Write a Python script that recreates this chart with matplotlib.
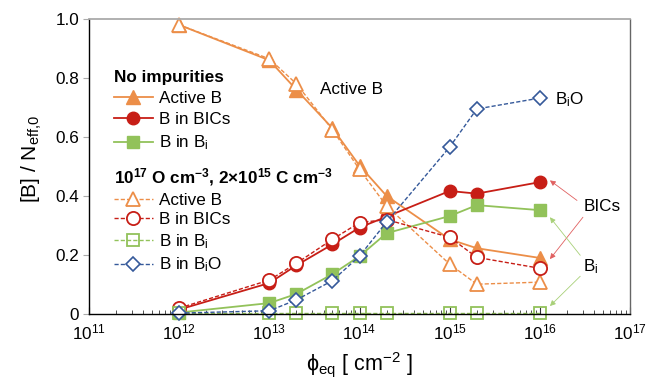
import matplotlib
matplotlib.use("Agg")
import matplotlib.pyplot as plt
from matplotlib.ticker import FixedLocator, FuncFormatter, LogLocator, NullFormatter

plt.rcParams['font.family'] = ['Liberation Sans', 'DejaVu Sans']
plt.rcParams['mathtext.fontset'] = 'custom'
plt.rcParams['mathtext.rm'] = 'Liberation Sans'
plt.rcParams['mathtext.it'] = 'Liberation Sans:italic'
plt.rcParams['mathtext.bf'] = 'Liberation Sans:bold'

# ---------------- data ----------------
fluence = [1e12, 1e13, 2e13, 5e13, 1e14, 2e14, 1e15, 2e15, 1e16]

# No impurities (closed symbols, solid lines)
active_b_pure = [0.98, 0.86, 0.76, 0.63, 0.503, 0.40, 0.253, 0.223, 0.19]
bics_pure     = [0.015, 0.105, 0.165, 0.236, 0.293, 0.33, 0.417, 0.408, 0.447]
bi_pure       = [0.005, 0.037, 0.068, 0.135, 0.196, 0.274, 0.332, 0.369, 0.352]

# 1e17 O cm-3, 2e15 C cm-3 (open symbols, dashed lines)
active_b_imp = [0.98, 0.865, 0.78, 0.625, 0.49, 0.366, 0.169, 0.101, 0.108]
bics_imp     = [0.02, 0.115, 0.172, 0.253, 0.31, 0.32, 0.26, 0.192, 0.155]
bi_imp       = [0.003, 0.003, 0.003, 0.003, 0.003, 0.003, 0.003, 0.003, 0.003]
bio_imp      = [0.003, 0.011, 0.048, 0.113, 0.196, 0.312, 0.566, 0.695, 0.732]

xticks = [1e11, 1e12, 1e13, 1e14, 1e15, 1e16, 1e17]
yticks = [0, 0.2, 0.4, 0.6, 0.8, 1.0]

ORANGE = '#EC8E48'
RED = '#C71E16'
GREEN = '#92C25A'
BLUE = '#35599A'

fig = plt.figure(figsize=(6.56, 3.78), dpi=100)
ax = fig.add_axes([89/656, 1 - 314/378, (630-89)/656, (314-19)/378])

lw_s = 1.3
lw_d = 1.0
fs = 12.3

h_a1, = ax.plot(fluence, active_b_pure, '-', color=ORANGE, lw=lw_s, marker='^', ms=9.5,
                mfc=ORANGE, mec=ORANGE, label='Active B', clip_on=False)
h_b1, = ax.plot(fluence, bics_pure, '-', color=RED, lw=lw_s, marker='o', ms=9,
                mfc=RED, mec=RED, label='B in BICs', clip_on=False)
h_c1, = ax.plot(fluence, bi_pure, '-', color=GREEN, lw=lw_s, marker='s', ms=8,
                mfc=GREEN, mec=GREEN, label='B in B$_\\mathrm{i}$', clip_on=False)

h_a2, = ax.plot(fluence, active_b_imp, '--', color=ORANGE, lw=lw_d, marker='^', ms=10,
                mfc='white', mec=ORANGE, mew=1.3, label='Active B', clip_on=False, dashes=(3, 1.5))
h_b2, = ax.plot(fluence, bics_imp, '--', color=RED, lw=lw_d, marker='o', ms=9.5,
                mfc='white', mec=RED, mew=1.3, label='B in BICs', clip_on=False, dashes=(3, 1.5))
h_c2, = ax.plot(fluence, bi_imp, '--', color=GREEN, lw=lw_d, marker='s', ms=8.5,
                mfc='none', mec=GREEN, mew=1.3, label='B in B$_\\mathrm{i}$', clip_on=False, dashes=(3, 1.5))
h_d2, = ax.plot(fluence, bio_imp, '--', color=BLUE, lw=lw_d, marker='D', ms=6.8,
                mfc='white', mec=BLUE, mew=1.2, label='B in B$_\\mathrm{i}$O', clip_on=False, dashes=(3, 1.5))

ax.set_xscale('log')
ax.set_xlim(1e11, 1e17)
ax.set_ylim(0, 1.0)
ax.xaxis.set_major_locator(FixedLocator(xticks))
ax.xaxis.set_minor_locator(LogLocator(base=10, subs=range(2, 10), numticks=20))
ax.xaxis.set_minor_formatter(NullFormatter())
ax.yaxis.set_major_locator(FixedLocator(yticks))
ax.yaxis.set_major_formatter(FuncFormatter(lambda v, p: '0' if v == 0 else f'{v:.1f}'))

ax.tick_params(axis='x', which='major', direction='in', length=5, width=0.8, labelsize=fs, pad=6, color='#333333')
ax.tick_params(axis='x', which='minor', direction='in', length=3, width=0.6, color='#333333')
ax.tick_params(axis='y', which='major', direction='out', length=4, width=0.8, labelsize=fs, color='#aaaaaa', pad=3)

for s in ['left', 'bottom']:
    ax.spines[s].set_color('black')
    ax.spines[s].set_linewidth(1.0)
ax.spines['top'].set_color('#aaaaaa')
ax.spines['top'].set_linewidth(1.3)
ax.spines['right'].set_color('#666666')
ax.spines['right'].set_linewidth(1.0)

ax.set_xlabel('ϕ$_{\\mathrm{eq}}$ [ cm$^{-2}$ ]', fontsize=15.5)
ax.set_ylabel('[B] / N$_{\\mathrm{eff,\\!0}}$', fontsize=15)
ax.xaxis.set_label_coords(0.5, -0.122)
ax.yaxis.set_label_coords(-0.083, 0.525)

# legends
leg_kw = dict(loc='upper left', frameon=False, fontsize=fs,
              title_fontproperties={'weight': 'bold', 'size': fs},
              handlelength=2.28, handletextpad=0.35, labelspacing=0.36, borderpad=0,
              borderaxespad=0)
leg1 = ax.legend(handles=[h_a1, h_b1, h_c1], title='No impurities',
                 bbox_to_anchor=(0.046, 0.827), **leg_kw)
leg1._legend_box.align = 'left'
ax.add_artist(leg1)
leg_kw['labelspacing'] = 0.28
leg2 = ax.legend(handles=[h_a2, h_b2, h_c2, h_d2],
                 title='$\\mathbf{10^{17}}$ O cm$\\mathbf{^{-3}}$, 2×$\\mathbf{10^{15}}$ C cm$\\mathbf{^{-3}}$',
                 bbox_to_anchor=(0.046, 0.502), **leg_kw)
leg2._legend_box.align = 'left'

# annotations
ax.text(0.427, 0.76, 'Active B', transform=ax.transAxes, fontsize=fs, va='center', ha='left')
ax.text(0.861, 0.726, 'B$_\\mathrm{i}$O', transform=ax.transAxes, fontsize=fs, va='center', ha='left')
ax.text(0.915, 0.365, 'BICs', transform=ax.transAxes, fontsize=fs, va='center', ha='left')
ax.text(0.913, 0.159, 'B$_\\mathrm{i}$', transform=ax.transAxes, fontsize=fs, va='center', ha='left')

def arrow(x0, y0, x1, y1, c):
    ax.annotate('', xy=(x1, y1), xytext=(x0, y0), xycoords='axes fraction', textcoords='axes fraction',
                arrowprops=dict(arrowstyle='-|>', color=c, lw=0.6, mutation_scale=8, shrinkA=0, shrinkB=0))

arrow(0.902, 0.385, 0.852, 0.453, '#E06060')
arrow(0.913, 0.328, 0.852, 0.186, '#E06060')
arrow(0.908, 0.199, 0.852, 0.328, '#A8D078')
arrow(0.908, 0.128, 0.852, 0.027, '#A8D078')

fig.savefig('out.png', dpi=100)
